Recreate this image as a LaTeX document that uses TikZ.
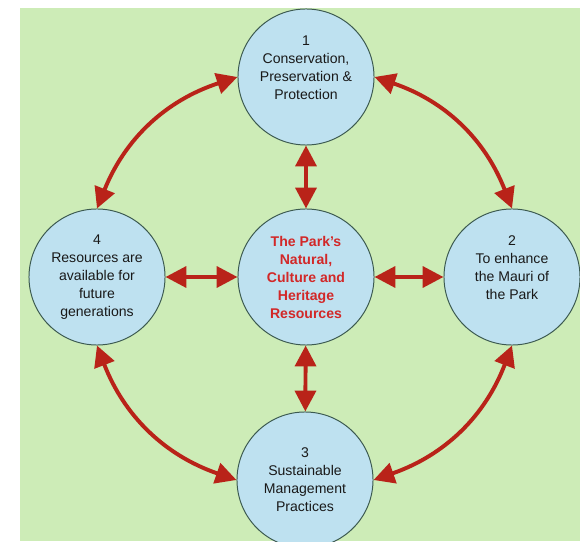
\documentclass[tikz,border=0pt]{standalone}
\usepackage{fontspec}
\setmainfont{Liberation Sans}
\usetikzlibrary{arrows.meta}
\definecolor{bggreen}{RGB}{205,236,183}
\definecolor{circblue}{RGB}{190,225,240}
\definecolor{circline}{RGB}{60,90,80}
\definecolor{arrowred}{RGB}{185,35,25}
\definecolor{textred}{RGB}{210,40,40}
\begin{document}
\begin{tikzpicture}[x=0.025cm,y=0.025cm,
  goal/.style={circle,draw=circline,line width=0.7pt,fill=circblue,minimum size=3.4cm,inner sep=0pt,
    align=center,font=\fontsize{10}{12.8}\selectfont,text=black!90},
  link/.style={draw=arrowred,line width=2.8pt,
    {Triangle[length=0.52cm,width=0.52cm]}-{Triangle[length=0.52cm,width=0.52cm]}}]
  \clip (0,0) rectangle (580,541);
  \fill[white] (0,0) rectangle (580,541);
  \fill[bggreen] (20,0) rectangle (580,533);
  \node[goal] (top) at (306,464) {1\\Conservation,\\Preservation \&\\Protection\\~};
  \node[goal] (right) at (512,264) {2\\To enhance\\the Mauri of\\the Park\\~};
  \node[goal] (bottom) at (305,61) {3\\Sustainable\\Management\\Practices};
  \node[goal] (left) at (97,264) {4\\Resources are\\available for\\future\\generations};
  \node[goal,text=textred,font=\fontsize{10}{12.8}\selectfont\bfseries] (park) at (306,264)
    {The Park's\\Natural,\\Culture and\\Heritage\\Resources};
  \draw[link] (park) -- (top);
  \draw[link] (park) -- (right);
  \draw[link] (park) -- (bottom);
  \draw[link] (park) -- (left);
  \draw[link] (top.west) to[bend right=25] (left.north);
  \draw[link] (top.east) to[bend left=25] (right.north);
  \draw[link] (left.south) to[bend right=25] (bottom.west);
  \draw[link] (right.south) to[bend left=25] (bottom.east);
\end{tikzpicture}
\end{document}
